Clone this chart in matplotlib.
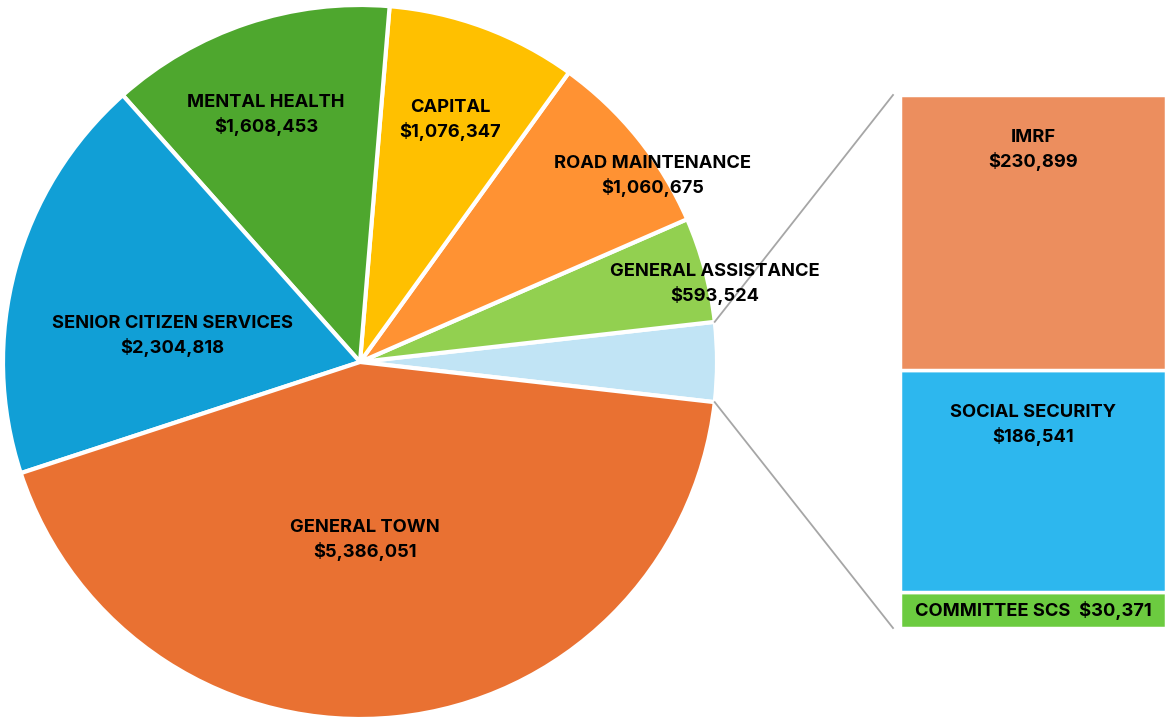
import numpy as np
import matplotlib.pyplot as plt
from matplotlib.patches import Rectangle

# pie slices, counter-clockwise starting with the grouped "other" slice
pie_labels = ['OTHER', 'GENERAL ASSISTANCE', 'ROAD MAINTENANCE', 'CAPITAL',
              'MENTAL HEALTH', 'SENIOR CITIZEN SERVICES', 'GENERAL TOWN']
pie_values = [None, 593524, 1060675, 1076347, 1608453, 2304818, 5386051]
pie_colours = ['#C1E4F5', '#92D050', '#FF9233', '#FFC000', '#4EA72E', '#119FD6', '#E97132']

# breakdown of the "other" slice (bottom to top)
bar_labels = ['COMMITTEE SCS', 'SOCIAL SECURITY', 'IMRF']
bar_values = [30371, 186541, 230899]
bar_colours = ['#6CCB40', '#2DB7EE', '#EC8E5E']

pie_values[0] = sum(bar_values)

W, H = 1166, 719
fig = plt.figure(figsize=(W / 100, H / 100), dpi=100)
ax = fig.add_axes([0, 0, 1, 1])
ax.axis('off')

plt.rcParams['font.family'] = ['Inter', 'DejaVu Sans']
fs = 13.2

cx, cy, R = 360, 719 - 362, 357
other_deg = 360.0 * pie_values[0] / sum(pie_values)
start = -other_deg / 2
wedges, _ = ax.pie(pie_values, colors=pie_colours, startangle=start, counterclock=True,
                   center=(cx, cy), radius=R,
                   wedgeprops=dict(edgecolor='white', linewidth=3))
ax.set_aspect('equal')
ax.set_xlim(0, W)
ax.set_ylim(0, H)

# label positions (pixel coords in the picture, y from top)
label_pos = [None, (715, 284), (653, 176), (450, 120), (266, 115), (172, 336), (365, 540)]
for lab, val, pos in zip(pie_labels, pie_values, label_pos):
    if pos is None:
        continue
    ax.text(pos[0], H - pos[1], '%s\n$%s' % (lab, format(val, ',')), ha='center', va='center',
            fontsize=fs, fontweight='bold', linespacing=1.4)

# stacked bar
bx, bw = 900, 266
btop, bbot = H - 95, H - 628
scale = (btop - bbot) / sum(bar_values)
y = bbot
for lab, val, col in zip(bar_labels, bar_values, bar_colours):
    h = val * scale
    ax.add_patch(Rectangle((bx, y), bw, h, facecolor=col, edgecolor='white', linewidth=2.5))
    if lab == 'COMMITTEE SCS':
        ax.text(bx + bw / 2, y + h / 2 - 1, '%s  $%s' % (lab, format(val, ',')), ha='center',
                va='center', fontsize=fs, fontweight='bold')
    else:
        ax.text(bx + bw / 2, y + h - 55, '%s\n$%s' % (lab, format(val, ',')), ha='center',
                va='center', fontsize=fs, fontweight='bold', linespacing=1.4)
    y += h

# connector lines
for ang, ty in [(start + other_deg, btop), (start, bbot)]:
    a = np.radians(ang)
    px, py = cx + R * np.cos(a), cy + R * np.sin(a)
    ax.plot([px, bx - 7], [py, ty], color='#A6A6A6', linewidth=1.3)

fig.savefig('out.png', dpi=100)
